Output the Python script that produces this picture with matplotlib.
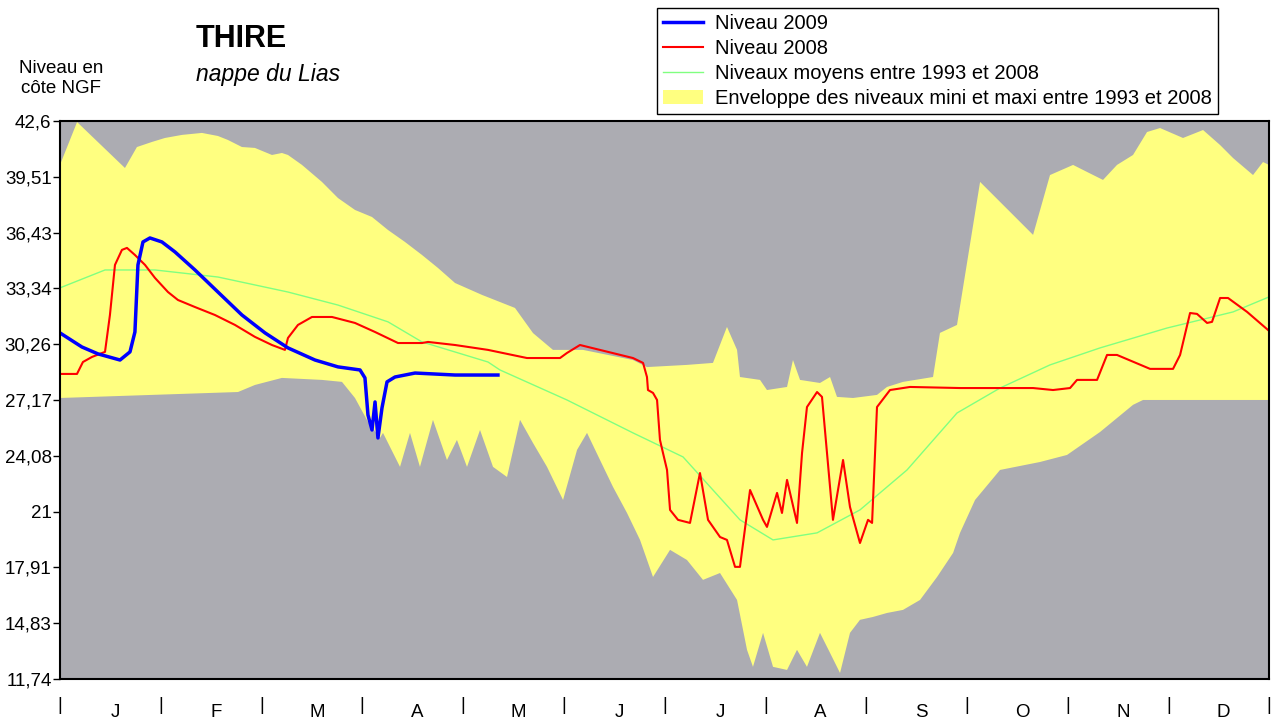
import matplotlib
matplotlib.use('Agg')
import matplotlib.pyplot as plt
import numpy as np

plt.rcParams['font.family'] = ['Liberation Sans', 'DejaVu Sans']

# x axis: position in the year, in months (0 = 1 janvier, 12 = 31 decembre)
months = ['J', 'F', 'M', 'A', 'M', 'J', 'J', 'A', 'S', 'O', 'N', 'D']
yticks = [11.74, 14.83, 17.91, 21.0, 24.08, 27.17, 30.26, 33.34, 36.43, 39.51, 42.6]
ytick_labels = ['11,74', '14,83', '17,91', '21', '24,08', '27,17', '30,26',
                '33,34', '36,43', '39,51', '42,6']

# envelope max 1993-2008
env_max_x = [0.0, 0.17, 0.645, 0.764, 0.913, 1.042, 1.211, 1.409, 1.568, 1.667,
             1.806, 1.935, 2.104, 2.203, 2.263, 2.402, 2.6, 2.759, 2.928, 3.097,
             3.256, 3.424, 3.593, 3.752, 3.921, 4.189, 4.516, 4.695, 4.893, 5.191,
             5.687, 5.826, 6.223, 6.481, 6.62, 6.72, 6.749, 6.948, 7.017, 7.216,
             7.275, 7.345, 7.543, 7.643, 7.712, 7.871, 8.109, 8.208, 8.367, 8.665,
             8.734, 8.903, 9.132, 9.658, 9.826, 10.055, 10.194, 10.352, 10.491, 10.65,
             10.789, 10.918, 11.146, 11.345, 11.514, 11.643, 11.841, 11.94, 12.0]
env_max_y = [40.17, 42.54, 40.0, 41.16, 41.44, 41.66, 41.83, 41.94, 41.77, 41.55,
             41.16, 41.11, 40.72, 40.83, 40.72, 40.17, 39.23, 38.34, 37.68, 37.29,
             36.57, 35.91, 35.19, 34.47, 33.64, 32.98, 32.26, 30.87, 29.94, 29.94,
             29.38, 28.99, 29.11, 29.22, 31.21, 29.94, 28.44, 28.28, 27.72, 27.89,
             29.38, 28.28, 28.11, 28.44, 27.34, 27.28, 27.45, 27.89, 28.17, 28.44,
             30.88, 31.32, 39.23, 36.3, 39.61, 40.17, 39.78, 39.34, 40.17, 40.72,
             41.99, 42.21, 41.66, 42.1, 41.27, 40.55, 39.61, 40.33, 40.17]

# envelope min 1993-2008
env_min_x = [0.0, 1.767, 1.935, 2.203, 2.6, 2.799, 2.928, 3.057, 3.176, 3.206,
             3.375, 3.474, 3.573, 3.702, 3.841, 3.94, 4.04, 4.169, 4.298, 4.437,
             4.566, 4.695, 4.834, 4.993, 5.132, 5.231, 5.36, 5.489, 5.628, 5.757,
             5.886, 6.055, 6.223, 6.382, 6.551, 6.72, 6.819, 6.878, 6.978, 7.077,
             7.216, 7.315, 7.414, 7.543, 7.643, 7.742, 7.841, 7.94, 8.069, 8.208,
             8.367, 8.536, 8.705, 8.864, 8.933, 9.082, 9.33, 9.727, 9.995, 10.323,
             10.65, 10.749, 12.0]
env_min_y = [27.28, 27.61, 28.0, 28.39, 28.28, 28.17, 27.28, 25.96, 25.07, 25.35,
             23.47, 25.35, 23.47, 26.07, 23.85, 24.96, 23.47, 25.51, 23.47, 22.91,
             26.07, 24.79, 23.47, 21.64, 24.41, 25.35, 23.85, 22.36, 20.92, 19.43,
             17.38, 18.88, 18.32, 17.22, 17.6, 16.11, 13.35, 12.41, 14.29, 12.41,
             12.24, 13.35, 12.41, 14.29, 13.18, 12.07, 14.29, 15.01, 15.17, 15.39,
             15.56, 16.11, 17.38, 18.71, 19.82, 21.64, 23.3, 23.74, 24.13, 25.4,
             26.9, 27.17, 27.17]

# mean levels 1993-2008
mean_x = [0.0, 0.447, 0.943, 1.568, 2.263, 2.759, 3.256, 3.593, 4.248, 4.367,
          5.032, 5.687, 6.184, 6.749, 7.077, 7.514, 7.94, 8.407, 8.903, 9.33,
          9.826, 10.323, 10.988, 11.643, 12.0]
mean_y = [33.37, 34.36, 34.36, 33.97, 33.14, 32.42, 31.49, 30.38, 29.27, 28.83,
          27.17, 25.35, 24.02, 20.54, 19.43, 19.82, 21.09, 23.3, 26.45, 27.83,
          29.11, 30.05, 31.15, 32.04, 32.87]

# niveau 2008
n2008_x = [0.0, 0.169, 0.228, 0.318, 0.447, 0.496, 0.546, 0.615, 0.665, 0.744,
           0.844, 0.943, 1.072, 1.171, 1.34, 1.538, 1.737, 1.935, 2.104, 2.233,
           2.263, 2.362, 2.501, 2.7, 2.928, 3.127, 3.355, 3.593, 3.653, 3.921,
           4.248, 4.635, 4.963, 5.032, 5.161, 5.687, 5.787, 5.826, 5.836, 5.886,
           5.926, 5.955, 5.985, 6.025, 6.055, 6.134, 6.253, 6.352, 6.432, 6.551,
           6.62, 6.7, 6.749, 6.849, 6.978, 7.017, 7.117, 7.166, 7.216, 7.315,
           7.365, 7.414, 7.514, 7.563, 7.672, 7.772, 7.841, 7.94, 8.02, 8.06,
           8.109, 8.238, 8.437, 8.933, 9.658, 9.856, 10.025, 10.094, 10.293, 10.392,
           10.491, 10.819, 11.047, 11.117, 11.216, 11.285, 11.385, 11.434, 11.514, 11.593,
           11.782, 11.99]
n2008_y = [28.61, 28.61, 29.27, 29.55, 29.83, 31.87, 34.64, 35.47, 35.58, 35.19,
           34.64, 33.92, 33.14, 32.7, 32.31, 31.87, 31.32, 30.66, 30.21, 29.94,
           30.6, 31.32, 31.76, 31.76, 31.43, 30.93, 30.32, 30.32, 30.38, 30.21,
           29.94, 29.49, 29.49, 29.77, 30.21, 29.49, 29.22, 28.44, 27.72, 27.56,
           27.17, 24.96, 24.24, 23.3, 21.09, 20.54, 20.37, 23.13, 20.54, 19.59,
           19.43, 17.94, 17.94, 22.19, 20.54, 20.15, 22.03, 20.92, 22.75, 20.37,
           24.24, 26.78, 27.61, 27.34, 20.54, 23.85, 21.25, 19.26, 20.54, 20.37,
           26.78, 27.72, 27.89, 27.83, 27.83, 27.72, 27.83, 28.28, 28.28, 29.66,
           29.66, 28.89, 28.89, 29.66, 31.98, 31.93, 31.43, 31.49, 32.81, 32.81,
           32.04, 31.04]

# niveau 2009
n2009_x = [0.0, 0.218, 0.377, 0.596, 0.695, 0.744, 0.774, 0.824, 0.893, 1.012,
           1.141, 1.34, 1.568, 1.806, 2.035, 2.263, 2.531, 2.759, 2.978, 3.027,
           3.057, 3.097, 3.127, 3.156, 3.196, 3.246, 3.325, 3.524, 3.921, 4.347]
n2009_y = [30.88, 30.1, 29.72, 29.38, 29.83, 30.93, 34.64, 35.91, 36.13, 35.91,
           35.36, 34.36, 33.14, 31.87, 30.88, 30.05, 29.38, 29.0, 28.83, 28.39,
           26.34, 25.51, 27.06, 25.07, 26.73, 28.17, 28.44, 28.66, 28.55, 28.55]

fig = plt.figure(figsize=(12.73, 7.24), dpi=100)
ax = fig.add_axes([0.0471, 0.0622, 0.9498, 0.7707])
ax.set_facecolor('#acacb2')

ax.fill(np.r_[env_max_x, env_min_x[::-1]], np.r_[env_max_y, env_min_y[::-1]],
        color='#ffff80', lw=0,
        label='Enveloppe des niveaux mini et maxi entre 1993 et 2008')
ax.plot(mean_x, mean_y, color='#80ff80', lw=1,
        label='Niveaux moyens entre 1993 et 2008')
ax.plot(n2008_x, n2008_y, color='#ff0000', lw=1.5, label='Niveau 2008')
ax.plot(n2009_x, n2009_y, color='#0000ff', lw=2.5, label='Niveau 2009')

ax.set_xlim(0, 12)
ax.set_ylim(11.74, 42.6)
ax.set_yticks(yticks)
ax.set_yticklabels(ytick_labels)
ax.tick_params(axis='y', direction='out', length=5, width=1, pad=1, labelsize=13.5)

# month separators and month letters under the axis
ax.set_xticks(np.arange(0, 13))
ax.set_xticklabels(['|'] * 13)
ax.set_xticks(np.arange(0.55, 12), minor=True)
ax.set_xticklabels(months, minor=True)
ax.tick_params(axis='x', which='both', length=0, labelsize=13.5)
ax.tick_params(axis='x', which='major', pad=13)
ax.tick_params(axis='x', which='minor', pad=18)

for s in ax.spines.values():
    s.set_linewidth(1.5)
    s.set_color('black')

fig.text(0.154, 0.935, 'THIRE', fontsize=22, fontweight='bold')
fig.text(0.154, 0.888, 'nappe du Lias', fontsize=16.5, style='italic')
fig.text(0.048, 0.872, 'Niveau en\ncôte NGF', fontsize=13.5, ha='center',
         linespacing=1.2)

h, l = ax.get_legend_handles_labels()
order = [3, 2, 1, 0]
fig.legend([h[i] for i in order], [l[i] for i in order], loc='upper left',
           bbox_to_anchor=(0.516, 0.989), fontsize=14.5, frameon=True,
           fancybox=False, edgecolor='black', framealpha=1, borderaxespad=0,
           handlelength=2.0, handletextpad=0.6, labelspacing=0.3,
           borderpad=0.3)

fig.savefig('out.png', dpi=100)
